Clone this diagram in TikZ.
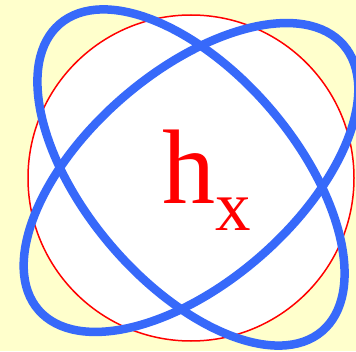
\documentclass[tikz,border=0pt]{standalone}
\usepackage{fontspec}
\setmainfont{Liberation Serif}
\usepackage{xcolor}
\usetikzlibrary{positioning}

\definecolor{paleyellow}{RGB}{255,255,204}
\definecolor{orbblue}{RGB}{55,105,250}

\begin{document}
\begin{tikzpicture}[x=1pt, y=1pt,
  shell/.style={draw=red, fill=white, line width=1.5pt},
  orb/.style={draw=orbblue, line width=8.5pt},
  lbl/.style={text=red, inner sep=0pt, anchor=base west}
]
  \fill[paleyellow] (0,0) rectangle (356,351);
  \useasboundingbox (0,0) rectangle (356,351);
  \clip (0,0) rectangle (356,351);

  \coordinate (c) at (191,173.5);
  \draw[shell] (191,173) circle [radius=163];

  \draw[orb, rotate around={-49.5:(c)}] (c) ellipse [x radius=202, y radius=105];
  \draw[orb, rotate around={41:(c)}] (c) ellipse [x radius=202, y radius=105];

  \node[lbl] (hx) at (162,147)
    {\fontsize{106}{106}\selectfont h\raisebox{-27pt}{\fontsize{71}{71}\selectfont x}};
\end{tikzpicture}
\end{document}
